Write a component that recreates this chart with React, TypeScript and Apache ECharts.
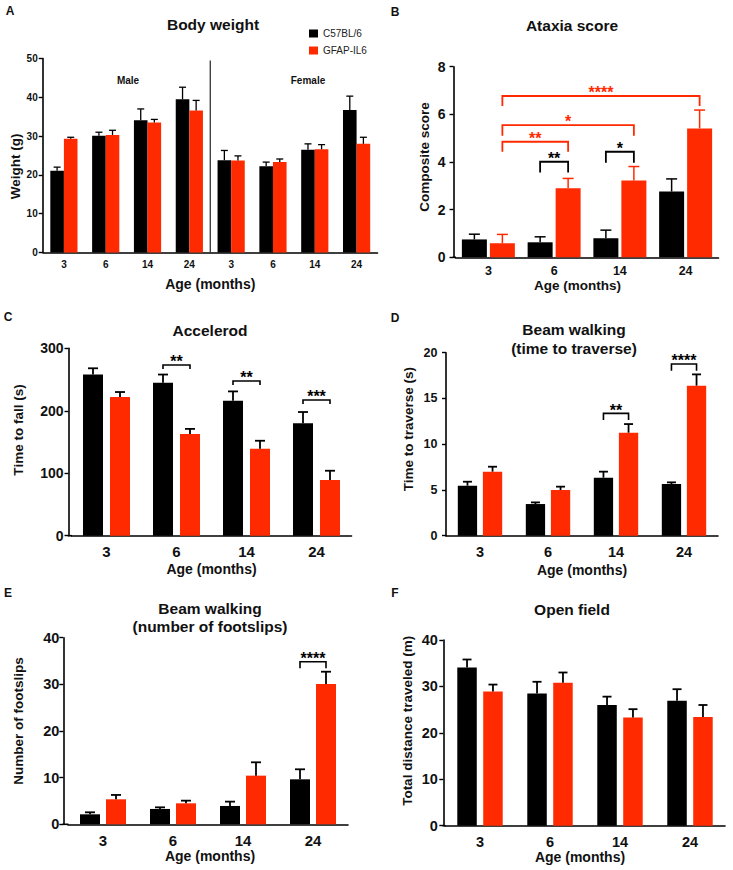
import React, { useEffect, useRef } from "react";
import * as echarts from "echarts";

const FONT = '"Liberation Sans", Arial, Helvetica, sans-serif';
const BLACK = "#000000";
const RED = "#ff2a00";
const TXT = "#111111";

// ---------- data ----------
const legendNames = ["C57BL/6", "GFAP-IL6"];
const ageLabels = ["3", "6", "14", "24"];
const bodyWeightCats = ["3", "6", "14", "24", "3", "6", "14", "24"];
const sexLabels = ["Male", "Female"];

// A: body weight (male 4 ages, then female 4 ages)
const bwWT = [21.1, 30.1, 34.1, 39.5, 23.8, 22.2, 26.5, 36.7];
const bwWTErr = [0.9, 0.9, 2.9, 3.1, 2.5, 1.1, 1.5, 3.6];
const bwIL6 = [29.3, 30.3, 33.5, 36.6, 23.7, 23.3, 26.6, 28.0];
const bwIL6Err = [0.4, 1.2, 0.8, 2.6, 1.2, 0.8, 1.2, 1.7];

// B: ataxia score
const ataxWT = [0.75, 0.63, 0.8, 2.76];
const ataxWTErr = [0.22, 0.23, 0.34, 0.53];
const ataxIL6 = [0.59, 2.9, 3.22, 5.41];
const ataxIL6Err = [0.37, 0.41, 0.59, 0.77];

// C: accelerod
const accWT = [258, 245, 216, 180];
const accWTErr = [10, 13, 15, 18];
const accIL6 = [222, 163, 139, 89];
const accIL6Err = [8, 8, 13, 15];

// D: beam walking time
const beamWT = [5.46, 3.46, 6.34, 5.65];
const beamWTErr = [0.44, 0.18, 0.66, 0.18];
const beamIL6 = [7.0, 4.99, 11.26, 16.4];
const beamIL6Err = [0.54, 0.37, 0.94, 1.23];

// E: footslips
const slipWT = [2.14, 3.29, 3.93, 9.64];
const slipWTErr = [0.43, 0.35, 0.93, 2.15];
const slipIL6 = [5.36, 4.5, 10.43, 30.07];
const slipIL6Err = [0.93, 0.57, 2.86, 2.64];

// F: open field
const ofWT = [34.1, 28.5, 26.0, 26.9];
const ofWTErr = [1.7, 2.5, 1.8, 2.5];
const ofIL6 = [28.9, 30.8, 23.3, 23.4];
const ofIL6Err = [1.5, 2.2, 1.8, 2.6];

// significance brackets: [fromGroup, fromSeries, toGroup, toSeries, yTop, drop, label, colour]
type Bracket = [number, number, number, number, number, number, string, string];
const ataxBrackets: Bracket[] = [
  [1, 0, 1, 1, 4.01, 0.45, "**", BLACK],
  [2, 0, 2, 1, 4.43, 0.46, "*", BLACK],
  [0, 1, 1, 1, 4.85, 0.42, "**", RED],
  [0, 1, 2, 1, 5.55, 0.45, "*", RED],
  [0, 1, 3, 1, 6.77, 0.42, "****", RED],
];
const accBrackets: Bracket[] = [
  [1, 0, 1, 1, 273.3, 6.4, "**", BLACK],
  [2, 0, 2, 1, 247.7, 6.4, "**", BLACK],
  [3, 0, 3, 1, 217.2, 6.4, "***", BLACK],
];
const beamBrackets: Bracket[] = [
  [2, 0, 2, 1, 13.37, 0.73, "**", BLACK],
  [3, 0, 3, 1, 18.76, 0.73, "****", BLACK],
];
const slipBrackets: Bracket[] = [[3, 0, 3, 1, 34.86, 1.43, "****", BLACK]];

// ---------- panel configuration ----------
const panels = [
  {
    letter: "A", letterPos: [10, 11], title: "Body weight", titlePos: [213, 24],
    cats: bodyWeightCats, wt: bwWT, wtErr: bwWTErr, il: bwIL6, ilErr: bwIL6Err,
    yMax: 50, yStep: 10, yName: "Weight (g)",
    grid: { left: 43, top: 58.5, width: 334.5, height: 194 }, yOffset: 0.3,
    barW: 13.6, gap: 0, cap: 7, errLW: 1.3, ilErrColor: BLACK,
    yLabelSize: 10, yLabelMargin: 5, xLabelSize: 10, xLabelMargin: 7,
    xNameSize: 14, xNameGap: 24, xNameShift: 0, yNameGap: 17, yNameUp: -11,
    brackets: [] as Bracket[], brLW: 1.5, starSize: 16,
  },
  {
    letter: "B", letterPos: [395, 11.5], title: "Ataxia score", titlePos: [572, 25],
    cats: ageLabels, wt: ataxWT, wtErr: ataxWTErr, il: ataxIL6, ilErr: ataxIL6Err,
    yMax: 8, yStep: 2, yName: "Composite score",
    grid: { left: 455.5, top: 66.7, width: 263, height: 190.6 }, yOffset: 2,
    barW: 25, gap: 0.12, cap: 11, errLW: 1.5, ilErrColor: RED,
    yLabelSize: 14, yLabelMargin: 8, xLabelSize: 12.5, xLabelMargin: 7,
    xNameSize: 13.5, xNameGap: 19, xNameShift: 9.5, yNameGap: 22, yNameUp: 5,
    brackets: ataxBrackets, brLW: 1.8, starSize: 16,
  },
  {
    letter: "C", letterPos: [8, 317], title: "Accelerod", titlePos: [210, 330],
    cats: ageLabels, wt: accWT, wtErr: accWTErr, il: accIL6, ilErr: accIL6Err,
    yMax: 300, yStep: 100, yName: "Time to fall (s)",
    grid: { left: 71.5, top: 348.3, width: 280, height: 187.4 }, yOffset: 3,
    barW: 20, gap: 0.35, cap: 10, errLW: 1.8, ilErrColor: BLACK,
    yLabelSize: 14, yLabelMargin: 5, xLabelSize: 15, xLabelMargin: 8.5,
    xNameSize: 14, xNameGap: 26, xNameShift: 0, yNameGap: 43, yNameUp: 12,
    brackets: accBrackets, brLW: 1.6, starSize: 16,
  },
  {
    letter: "D", letterPos: [395, 318], title: "Beam walking\n(time to traverse)", titlePos: [574, 339],
    cats: ageLabels, wt: beamWT, wtErr: beamWTErr, il: beamIL6, ilErr: beamIL6Err,
    yMax: 20, yStep: 5, yName: "Time to traverse (s)",
    grid: { left: 446, top: 352.7, width: 272, height: 183 }, yOffset: 0,
    barW: 19.3, gap: 0.3, cap: 9, errLW: 1.8, ilErrColor: BLACK,
    yLabelSize: 12.5, yLabelMargin: 8.5, xLabelSize: 14.5, xLabelMargin: 9,
    xNameSize: 14, xNameGap: 27, xNameShift: 0, yNameGap: 31, yNameUp: 15,
    brackets: beamBrackets, brLW: 1.6, starSize: 16,
  },
  {
    letter: "E", letterPos: [8, 593], title: "Beam walking\n(number of footslips)", titlePos: [210, 617.5],
    cats: ageLabels, wt: slipWT, wtErr: slipWTErr, il: slipIL6, ilErr: slipIL6Err,
    yMax: 40, yStep: 10, yName: "Number of footslips",
    grid: { left: 68, top: 637.7, width: 280, height: 186.6 }, yOffset: 4.7,
    barW: 20, gap: 0.3, cap: 10, errLW: 1.8, ilErrColor: BLACK,
    yLabelSize: 14.5, yLabelMargin: 4, xLabelSize: 15, xLabelMargin: 8.5,
    xNameSize: 14, xNameGap: 25, xNameShift: -2, yNameGap: 38, yNameUp: 10,
    brackets: slipBrackets, brLW: 1.6, starSize: 16,
  },
  {
    letter: "F", letterPos: [395, 593], title: "Open field", titlePos: [572, 609],
    cats: ageLabels, wt: ofWT, wtErr: ofWTErr, il: ofIL6, ilErr: ofIL6Err,
    yMax: 40, yStep: 10, yName: "Total distance traveled (m)",
    grid: { left: 445, top: 640, width: 280, height: 185.7 }, yOffset: 1.7,
    barW: 19.5, gap: 0.33, cap: 9, errLW: 1.8, ilErrColor: BLACK,
    yLabelSize: 14.5, yLabelMargin: 5.5, xLabelSize: 14.5, xLabelMargin: 8.5,
    xNameSize: 14, xNameGap: 22, xNameShift: 5, yNameGap: 28.5, yNameUp: 12,
    brackets: [] as Bracket[], brLW: 1.6, starSize: 16,
  },
];

function barOffset(p: any, side: number) {
  const off = (p.barW * (1 + p.gap)) / 2;
  return side === 0 ? -off : off;
}

function errorSeries(gi: number, p: any, values: number[], errs: number[], side: number, color: string) {
  const off = barOffset(p, side);
  return {
    type: "custom",
    xAxisIndex: gi,
    yAxisIndex: gi,
    z: 3,
    silent: true,
    data: values.map((v, k) => [k, v, v + errs[k]]),
    renderItem: (_params: any, api: any) => {
      const base = api.coord([api.value(0), api.value(1)]);
      const top = api.coord([api.value(0), api.value(2)]);
      const x = base[0] + off;
      const st = { stroke: color, lineWidth: p.errLW, fill: null };
      return {
        type: "group",
        children: [
          { type: "line", shape: { x1: x, y1: base[1], x2: x, y2: top[1] }, style: st },
          { type: "line", shape: { x1: x - p.cap / 2, y1: top[1], x2: x + p.cap / 2, y2: top[1] }, style: st },
        ],
      };
    },
  };
}

function bracketSeries(gi: number, p: any) {
  const list: Bracket[] = p.brackets;
  return {
    type: "custom",
    xAxisIndex: gi,
    yAxisIndex: gi,
    z: 4,
    silent: true,
    data: list.map((b) => [b[0], b[4]]),
    renderItem: (params: any, api: any) => {
      const b = list[params.dataIndex];
      const a = api.coord([b[0], b[4]]);
      const c = api.coord([b[2], b[4]]);
      const low = api.coord([b[0], b[4] - b[5]])[1];
      const x1 = a[0] + barOffset(p, b[1]);
      const x2 = c[0] + barOffset(p, b[3]);
      const y = a[1];
      return {
        type: "group",
        children: [
          {
            type: "polyline",
            shape: { points: [[x1, low], [x1, y], [x2, y], [x2, low]] },
            style: { stroke: b[7], lineWidth: p.brLW, fill: null },
          },
          {
            type: "text",
            style: {
              text: b[6],
              x: (x1 + x2) / 2,
              y: y - 3.2,
              fill: b[7],
              fontSize: p.starSize,
              fontWeight: "bold",
              fontFamily: FONT,
              align: "center",
              verticalAlign: "middle",
            },
          },
        ],
      };
    },
  };
}

// x-axis extension from the (offset) y-axis line to the plot start
function axisJoinSeries(gi: number, p: any) {
  return {
    type: "custom", xAxisIndex: gi, yAxisIndex: gi, silent: true, z: 3,
    data: [[0, 0]],
    renderItem: (_params: any, api: any) => {
      const pt = api.coord([0, 0]);
      const left = pt[0] - api.size([1, 0])[0] / 2;
      return {
        type: "line",
        shape: { x1: left - p.yOffset - 0.8, y1: pt[1], x2: left + 0.5, y2: pt[1] },
        style: { stroke: BLACK, lineWidth: 1.6 },
      };
    },
  };
}

// divider between male and female groups in panel A (after category index 3)
const dividerAfter = [3];
const dividerTop = 49.5;

function buildOption() {
  const grid: any[] = [];
  const xAxis: any[] = [];
  const yAxis: any[] = [];
  const series: any[] = [];
  const graphic: any[] = [];

  panels.forEach((p, gi) => {
    grid.push({ ...p.grid, containLabel: false });
    xAxis.push({
      type: "category",
      gridIndex: gi,
      data: p.cats,
      axisLine: { lineStyle: { color: BLACK, width: 1.6 } },
      axisTick: { alignWithLabel: true, length: 4, lineStyle: { color: BLACK, width: 1.4 } },
      axisLabel: {
        color: TXT, fontSize: p.xLabelSize, fontWeight: "bold", fontFamily: FONT,
        margin: p.xLabelMargin, interval: 0,
      },
      splitLine: { show: false },
      name: "Age (months)",
      nameLocation: "middle",
      nameGap: p.xNameGap,
      nameTextStyle: {
        color: TXT, fontSize: p.xNameSize, fontWeight: "bold", fontFamily: FONT,
        padding: p.xNameShift >= 0 ? [0, 2 * p.xNameShift, 0, 0] : [0, 0, 0, -2 * p.xNameShift],
      },
    });
    yAxis.push({
      type: "value",
      gridIndex: gi,
      min: 0,
      max: p.yMax,
      interval: p.yStep,
      offset: p.yOffset,
      axisLine: { show: true, lineStyle: { color: BLACK, width: 1.6 } },
      axisTick: { show: true, length: 4, lineStyle: { color: BLACK, width: 1.4 } },
      axisLabel: {
        color: TXT, fontSize: p.yLabelSize, fontWeight: "bold", fontFamily: FONT, margin: p.yLabelMargin,
      },
      splitLine: { show: false },
      name: p.yName,
      nameLocation: "middle",
      nameGap: p.yNameGap,
      nameTextStyle: {
        color: TXT, fontSize: 13.5, fontWeight: "bold", fontFamily: FONT,
        padding: p.yNameUp >= 0 ? [0, 0, 0, 2 * p.yNameUp] : [0, -2 * p.yNameUp, 0, 0],
      },
    });
    series.push({
      type: "bar", name: legendNames[0], xAxisIndex: gi, yAxisIndex: gi,
      data: p.wt, barWidth: p.barW, barGap: `${p.gap * 100}%`,
      itemStyle: { color: BLACK }, silent: true,
    });
    series.push({
      type: "bar", name: legendNames[1], xAxisIndex: gi, yAxisIndex: gi,
      data: p.il, barWidth: p.barW, barGap: `${p.gap * 100}%`,
      itemStyle: { color: RED }, silent: true,
    });
    series.push(errorSeries(gi, p, p.wt, p.wtErr, 0, BLACK));
    series.push(errorSeries(gi, p, p.il, p.ilErr, 1, p.ilErrColor));
    if (p.brackets.length) series.push(bracketSeries(gi, p));
    if (p.yOffset > 0.5) series.push(axisJoinSeries(gi, p));

    graphic.push({
      type: "text", x: p.letterPos[0], y: p.letterPos[1],
      style: {
        text: p.letter, fill: TXT, fontSize: 12, fontWeight: "bold", fontFamily: FONT,
        align: "center", verticalAlign: "middle", textAlign: "center", textVerticalAlign: "middle",
      },
    });
    graphic.push({
      type: "text", x: p.titlePos[0], y: p.titlePos[1],
      style: {
        text: p.title, fill: TXT, fontSize: 15.5, fontWeight: "bold", fontFamily: FONT, lineHeight: 18.5,
        align: "center", verticalAlign: "middle", textAlign: "center", textVerticalAlign: "middle",
      },
    });
  });

  // divider in panel A
  series.push({
    type: "custom", xAxisIndex: 0, yAxisIndex: 0, silent: true, z: 3,
    data: dividerAfter.map((i) => [i, dividerTop]),
    renderItem: (_params: any, api: any) => {
      const top = api.coord([api.value(0), api.value(1)]);
      const bottom = api.coord([api.value(0), 0]);
      const x = top[0] + api.size([1, 0])[0] / 2;
      return { type: "line", shape: { x1: x, y1: top[1], x2: x, y2: bottom[1] }, style: { stroke: "#222", lineWidth: 1.2 } };
    },
  });

  // Male / Female labels
  const sexPos = [[128, 80], [308, 80]];
  sexLabels.forEach((s, i) => {
    graphic.push({
      type: "text", x: sexPos[i][0], y: sexPos[i][1],
      style: {
        text: s, fill: TXT, fontSize: 10, fontWeight: "bold", fontFamily: FONT,
        align: "center", verticalAlign: "middle", textAlign: "center", textVerticalAlign: "middle",
      },
    });
  });

  return {
    animation: false,
    backgroundColor: "#ffffff",
    textStyle: { fontFamily: FONT },
    legend: {
      data: legendNames,
      orient: "vertical",
      left: 309,
      top: 28.5,
      padding: 0,
      itemWidth: 9,
      itemHeight: 8,
      itemGap: 7,
      icon: "rect",
      selectedMode: false,
      textStyle: { color: "#222", fontSize: 10, fontFamily: FONT },
    },
    grid,
    xAxis,
    yAxis,
    series,
    graphic,
  };
}

export default function App() {
  const ref = useRef<HTMLDivElement>(null);
  useEffect(() => {
    if (!ref.current) return;
    const chart = echarts.init(ref.current, undefined, { renderer: "svg" });
    chart.setOption(buildOption() as any);
    return () => chart.dispose();
  }, []);
  return (
    <div
      ref={ref}
      style={{ position: "fixed", left: 0, top: 0, width: 733, height: 870, background: "#fff" }}
    />
  );
}
